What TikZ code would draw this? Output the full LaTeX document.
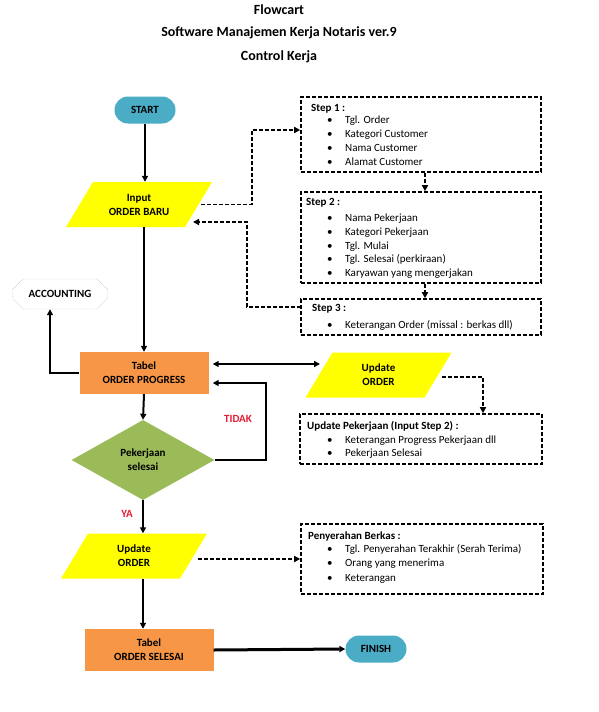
\documentclass[tikz,border=0pt]{standalone}
\usepackage{fontspec}
\setmainfont{Carlito}
\usetikzlibrary{shapes.geometric,shapes.misc,arrows.meta}
\newlength{\du}
\setlength{\du}{1pt}
\definecolor{termcolor}{RGB}{75,172,198}
\definecolor{iocolor}{RGB}{255,255,0}
\definecolor{tabcolor}{RGB}{247,150,70}
\definecolor{deccolor}{RGB}{155,187,89}
\definecolor{labcolor}{RGB}{228,30,50}
\tikzset{
	lbl/.style={font=\fontsize{11}{14}\selectfont\bfseries, align=center, inner sep=0pt},
	terminal/.style={lbl, rounded rectangle, fill=termcolor, minimum width=61\du, minimum height=27\du},
	iobox/.style={lbl, rectangle, minimum width=146\du, minimum height=45\du,
		path picture={\fill[iocolor] ([xshift=27\du]path picture bounding box.north west) -- (path picture bounding box.north east)
			-- ([xshift=-27\du]path picture bounding box.south east) -- (path picture bounding box.south west) -- cycle;}},
	tabbox/.style={lbl, rectangle, fill=tabcolor, minimum width=129\du, minimum height=42\du},
	decbox/.style={lbl, diamond, fill=deccolor, minimum width=143\du, minimum height=80\du},
	accbox/.style={lbl, chamfered rectangle, chamfered rectangle xsep=7\du, chamfered rectangle ysep=7\du, draw=black!45, densely dotted, fill=white, minimum width=95\du, minimum height=30\du},
	notebox/.style={rectangle, draw, line width=1.6\du, dash pattern=on 4\du off 2\du, inner sep=0pt},
	itemtxt/.style={anchor=west, inner sep=0pt, text height=7.4\du, text depth=0pt, font=\fontsize{11}{13}\selectfont},
	headtxt/.style={itemtxt, font=\fontsize{11}{13}\selectfont\bfseries},
	titletxt/.style={inner sep=0pt, text height=9.4\du, text depth=0pt, font=\fontsize{14}{16}\selectfont\bfseries},
	yntxt/.style={lbl, text=labcolor},
	tip/.tip={Triangle[length=6pt,width=6pt]},
	sline/.style={line width=2\du, -tip},
	dline/.style={line width=1.6\du, dash pattern=on 4\du off 2\du, -tip}
}

\begin{document}
\begin{tikzpicture}
	\pgftransformyscale{-1.000000}
	\useasboundingbox (0\du,0\du) rectangle (599\du,712\du);
	% title
	\node[titletxt] (t1) at (279\du,10\du){Flowcart};
	\node[titletxt] (t2) at (279\du,32\du){Software Manajemen Kerja Notaris ver.9};
	\node[titletxt] (t3) at (279\du,56\du){Control Kerja};
	% main flow
	\node[terminal] (start) at (145\du,110\du){START};
	\node[iobox] (inp) at (139\du,204.5\du){Input\\ORDER BARU};
	\node[accbox] (acc) at (60\du,294\du){ACCOUNTING};
	\node[tabbox] (prog) at (144\du,373\du){Tabel\\ORDER PROGRESS};
	\node[iobox] (upd1) at (378.5\du,375\du){Update\\ORDER};
	\node[decbox] (dec) at (143\du,460\du){Pekerjaan\\selesai};
	\node[iobox] (upd2) at (134\du,556\du){Update\\ORDER};
	\node[tabbox] (sls) at (149\du,650\du){Tabel\\ORDER SELESAI};
	\node[terminal] (finish) at (376\du,649\du){FINISH};
	\node[yntxt] (tidak) at (238\du,419\du){TIDAK};
	\node[yntxt] (ya) at (127\du,514\du){YA};
	% note boxes
	\node[notebox, minimum width=240\du, minimum height=75\du] (st1) at (421\du,134.5\du){};
	\node[notebox, minimum width=240\du, minimum height=91\du] (st2) at (421\du,237.5\du){};
	\node[notebox, minimum width=240\du, minimum height=36\du] (st3) at (421\du,317\du){};
	\node[notebox, minimum width=242\du, minimum height=50\du] (updk) at (421\du,439\du){};
	\node[notebox, minimum width=242\du, minimum height=70\du] (srh) at (422\du,559\du){};
	\node[headtxt] (h1) at (311\du,108\du){Step 1 :};
	\node[headtxt] (h2) at (306\du,202\du){Step 2 :};
	\node[headtxt] (h3) at (312\du,308\du){Step 3 :};
	\node[headtxt] (h4) at (307\du,426\du){Update Pekerjaan (Input Step 2) :};
	\node[headtxt] (h5) at (308\du,536\du){Penyerahan Berkas :};
	\foreach \y/\t in {120/Tgl. Order, 134/Kategori Customer, 148/Nama Customer, 162/Alamat Customer,
		218/Nama Pekerjaan, 232/Kategori Pekerjaan, 246/Tgl. Mulai, 259/Tgl. Selesai (perkiraan), 273/Karyawan yang mengerjakan,
		325/Keterangan Order (missal : berkas dll),
		440/Keterangan Progress Pekerjaan dll, 453/Pekerjaan Selesai,
		549/Tgl. Penyerahan Terakhir (Serah Terima), 563/Orang yang menerima, 578/Keterangan}{
		\node[itemtxt] (b\y) at (327\du,\y\du){•};
		\node[itemtxt] (i\y) at (345\du,\y\du){\t};
	}
	% helper points
	\coordinate (j1) at (252\du,130\du);
	\coordinate (j2) at (247\du,222\du);
	\coordinate (j3) at (301\du,307\du);
	\coordinate (inpin) at (193\du,222\du);
	\coordinate (cx) at (425\du,0\du);
	\coordinate (cu) at (483\du,0\du);
	\coordinate (ca) at (50\du,0\du);
	\coordinate (cm) at (144\du,0\du);
	\coordinate (dbl) at (320\du,364\du);
	\coordinate (tl) at (266\du,383\du);
	% solid connectors
	\draw[sline] (start.south) -- (start.south |- inp.north);
	\draw[sline] (cm |- inp.south) -- (cm |- prog.north);
	\draw[sline] (prog.west) -| (ca |- acc.south);
	\draw[sline] (prog.south) -- (dec.north);
	\draw[sline, shorten >=4\du] (dec.east) -| (tl) -- (tl -| prog.east);
	\draw[line width=2\du, tip-tip, shorten <=4\du] (dbl -| prog.east) -- (dbl);
	\draw[sline] (dec.south) -- (dec.south |- upd2.north);
	\draw[sline] (dec.south |- upd2.south) -- (dec.south |- sls.north);
	\draw[sline, line width=3\du] (sls.east) -- (finish.west);
	% dashed connectors
	\draw[dline] ([xshift=-11\du]inp.east) -| (j1) -- (j1 -| st1.west);
	\draw[dline] (j3) -| (j2) -- (inpin);
	\draw[dline] (cx |- st1.south) -- (cx |- st2.north);
	\draw[dline] (cx |- st2.south) -- (cx |- st3.north);
	\draw[dline] ([xshift=-10\du,yshift=2\du]upd1.east) -| (cu |- updk.north);
	\draw[dline] ([xshift=-9\du,yshift=3\du]upd2.east) -- ([yshift=3\du]upd2.east -| srh.west);
\end{tikzpicture}
\end{document}
